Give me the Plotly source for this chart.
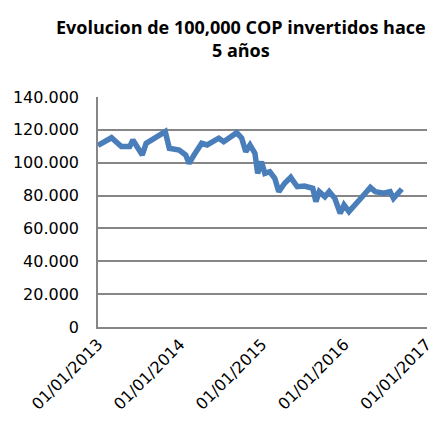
import plotly.graph_objects as go

dates = ["2013-01-01","2013-03-02","2013-04-15","2013-05-22","2013-06-05","2013-06-27","2013-07-17",
         "2013-08-03","2013-08-25","2013-09-23","2013-10-27","2013-11-14","2013-12-28","2014-01-26",
         "2014-02-10","2014-03-04","2014-04-07","2014-05-01","2014-05-31","2014-06-22","2014-07-14",
         "2014-08-05","2014-09-10","2014-10-02","2014-10-20","2014-11-08","2014-11-30","2014-12-12",
         "2014-12-29","2015-01-13","2015-02-04","2015-02-26","2015-03-16","2015-04-11","2015-05-08",
         "2015-06-06","2015-07-08","2015-08-14","2015-08-28","2015-09-12","2015-10-07","2015-10-26",
         "2015-11-20","2015-12-14","2015-12-31","2016-01-22","2016-02-20","2016-03-21","2016-04-26",
         "2016-05-18","2016-06-24","2016-07-23","2016-08-07","2016-09-13"]
values = [110500,115200,109800,109800,113800,108800,104700,
          111800,113800,115500,118900,108800,107700,104700,
          99600,104700,111800,110800,112800,114900,112800,
          114900,118300,114900,106700,110800,105700,93500,
          100600,93500,94500,90500,82400,87500,91100,
          85400,85800,84400,76300,82400,79300,82400,
          78300,69200,74300,70200,75300,79300,85000,
          82400,81400,82400,78300,84000]

x_ticks = ["2013-01-01","2014-01-01","2015-01-01","2016-01-01","2017-01-01"]
x_labels = ["01/01/2013","01/01/2014","01/01/2015","01/01/2016","01/01/2017"]
y_ticks = [0,20000,40000,60000,80000,100000,120000,140000]
title_text = "<b>Evolucion de 100,000 COP invertidos hace<br>5 años</b>"

tick_font = "'DejaVu Sans', sans-serif"
title_font = "'Open Sans', 'DejaVu Sans', sans-serif"

fig = go.Figure(go.Scatter(x=dates, y=values, mode="lines",
                           line=dict(color="#4A7EBB", width=5.5), hoverinfo="skip"))
fig.update_layout(
    width=435, height=427,
    margin=dict(l=98, r=8, t=97, b=100, autoexpand=False),
    paper_bgcolor="white", plot_bgcolor="white",
    separators=",.",
    showlegend=False,
    font=dict(family=tick_font, color="black"),
    annotations=[dict(text=title_text, xref="paper", yref="paper", x=0.435, y=1.365,
                      xanchor="center", yanchor="top", showarrow=False, align="center",
                      font=dict(family=title_font, size=18, color="black"))],
)
fig.update_xaxes(range=["2013-01-01","2017-01-03"], tickvals=x_ticks, ticktext=x_labels,
                 tickangle=-45, tickfont=dict(size=16), showgrid=False, automargin=False,
                 ticklabeloverflow="allow",
                 showline=True, linecolor="#868686", linewidth=1.5, ticks="", zeroline=False)
fig.update_yaxes(range=[0,140000], tickvals=y_ticks, tickformat=",d", automargin=False,
                 tickfont=dict(size=16), showgrid=True, gridcolor="#868686", gridwidth=1.5,
                 ticklabelstandoff=14,
                 showline=True, linecolor="#868686", linewidth=1.5, zeroline=False, ticks="")
fig.write_html("out.html", config={"displayModeBar": False},
               post_script="document.body.style.margin='0';")
